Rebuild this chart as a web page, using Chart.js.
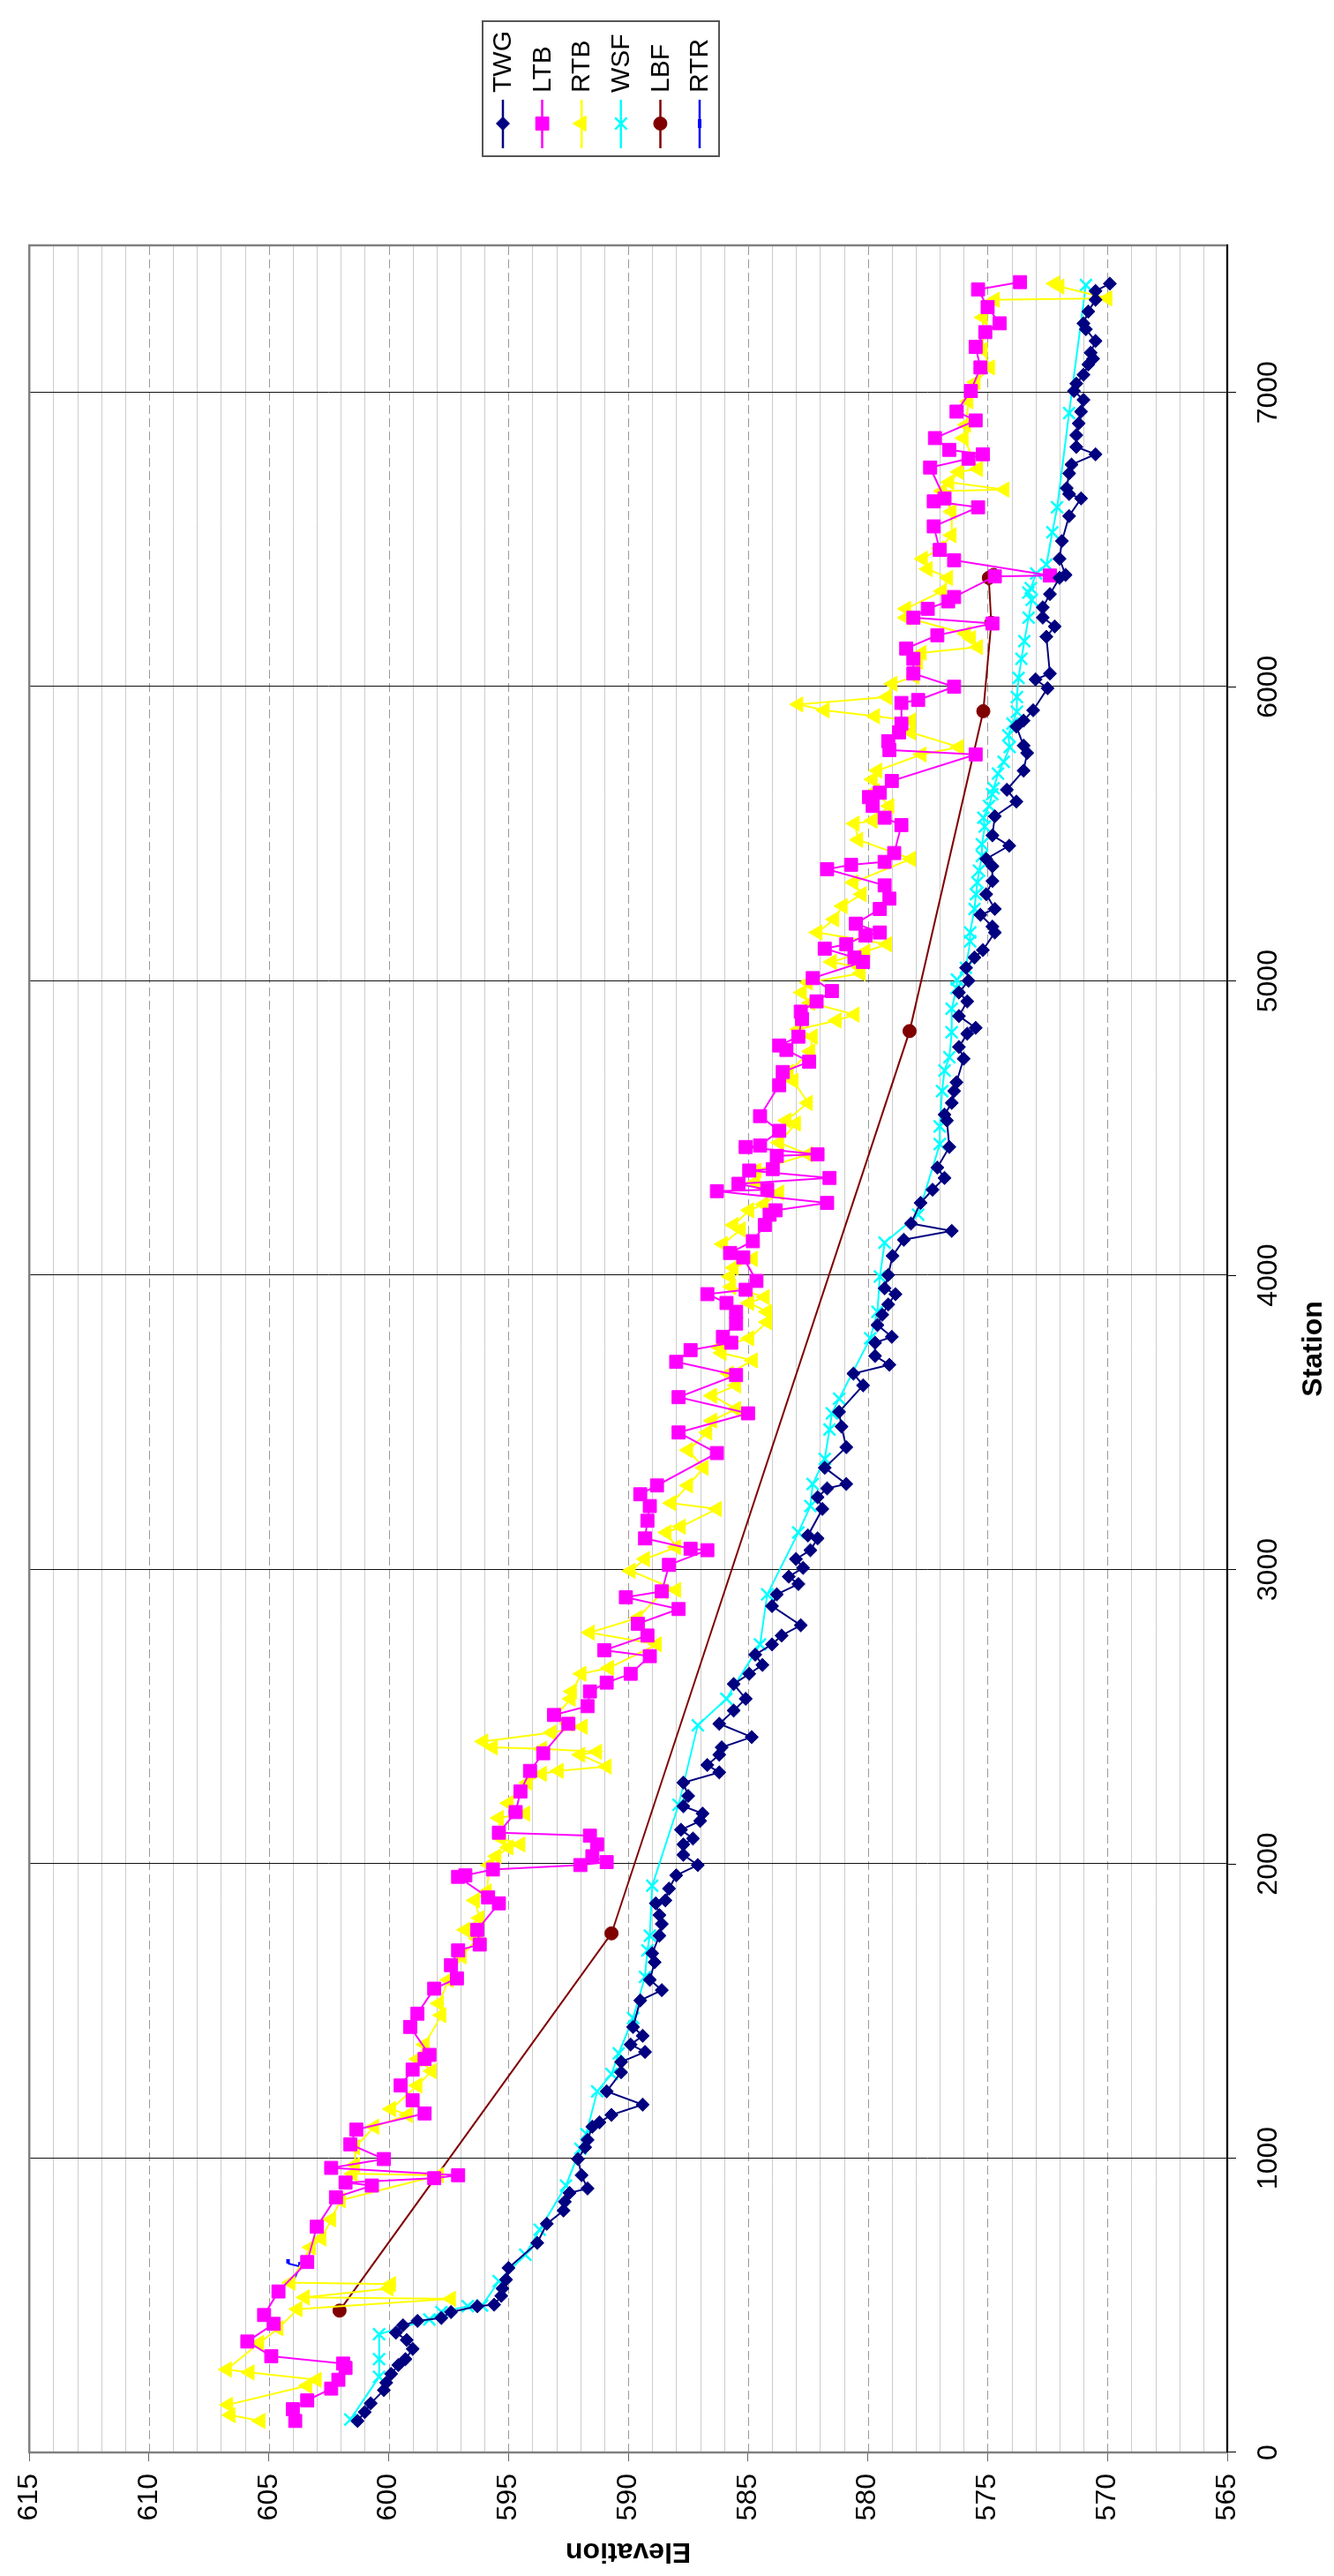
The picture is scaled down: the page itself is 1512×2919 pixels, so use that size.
<!DOCTYPE html>
<html>
<head>
<meta charset="utf-8">
<script src="https://cdn.jsdelivr.net/npm/chart.js@4.4.1/dist/chart.umd.min.js"></script>
<style>
  html, body { margin: 0; padding: 0; background: #fff; overflow: hidden; width: 1512px; height: 2919px; }
  /* the chart is drawn landscape and turned a quarter turn to the left */
  #wrap { position: absolute; left: 0; top: 0; width: 2919px; height: 1512px;
          transform-origin: 0 0; transform: translate(0, 2919px) rotate(-90deg); }
  canvas { display: block; }
</style>
</head>
<body>
<div id="wrap"><canvas id="profile" width="2919" height="1512"></canvas></div>
<script>
// [station, elevation]
const twg = [
  [107,601.3],[137,601.0],[167,600.75],[212,600.2],[237,600.1],[267,599.9],[297,599.6],[317,599.3],
  [352,599.0],[382,599.25],[407,599.7],[432,599.4],[447,598.8],[457,597.8],[477,597.4],[497,596.3],
  [502,595.6],[532,595.3],[557,595.25],[587,595.1],[627,595.0],[712,593.8],[777,593.4],[822,592.7],
  [852,592.65],[882,592.45],[897,591.7],[942,591.95],[997,592.1],[1037,591.8],[1062,591.7],[1107,591.5],
  [1122,591.2],[1147,590.7],[1182,589.4],[1227,590.9],[1292,590.3],[1327,590.3],[1361,589.3],[1386,589.9],
  [1416,589.4],[1446,589.8],[1536,589.5],[1571,588.6],[1606,589.1],[1666,588.9],[1696,589.0],[1756,588.7],
  [1796,588.6],[1826,588.7],[1866,588.85],[1876,588.45],[1916,588.3],[1961,588.0],[1996,587.1],[2031,587.7],
  [2066,587.7],[2086,587.3],[2116,587.8],[2146,587.0],[2171,586.9],[2196,587.7],[2231,587.5],[2276,587.7],
  [2311,586.2],[2336,586.7],[2371,586.2],[2396,586.1],[2431,584.85],[2476,586.2],[2521,585.6],[2561,585.1],
  [2611,585.6],[2646,584.95],[2676,584.4],[2711,584.7],[2746,584.0],[2776,583.6],[2811,582.8],[2876,584.0],
  [2916,583.8],[2951,582.9],[2976,583.3],[3006,582.7],[3036,583.0],[3066,582.4],[3106,582.1],[3116,582.5],
  [3206,581.9],[3246,582.1],[3276,581.7],[3291,580.9],[3346,581.8],[3416,580.9],[3486,581.1],[3536,581.2],
  [3626,580.2],[3666,580.6],[3696,579.1],[3726,579.7],[3771,579.7],[3791,579.0],[3831,579.6],[3866,579.4],
  [3901,579.15],[3936,578.85],[3956,579.3],[4001,579.15],[4066,578.97],[4121,578.5],[4151,576.5],[4176,578.2],
  [4246,577.8],[4291,577.3],[4331,576.8],[4366,577.1],[4436,576.6],[4526,576.7],[4546,576.8],[4586,576.5],
  [4626,576.4],[4656,576.3],[4736,576.0],[4776,576.2],[4821,575.85],[4841,575.5],[4881,576.2],[4931,575.85],
  [4961,576.2],[5001,575.8],[5045,575.9],[5080,575.55],[5105,575.2],[5165,574.7],[5185,574.8],[5225,575.3],
  [5245,574.7],[5295,575.06],[5340,574.8],[5390,574.8],[5415,575.06],[5460,574.1],[5495,574.8],[5560,574.7],
  [5610,573.8],[5650,574.2],[5715,573.5],[5775,573.35],[5800,573.5],[5865,573.8],[5885,573.5],[5920,573.1],
  [5995,572.5],[6025,573.0],[6045,572.4],[6170,572.55],[6205,572.2],[6235,572.7],[6270,572.7],[6315,572.4],
  [6370,572.0],[6380,571.75],[6435,572.0],[6495,571.9],[6580,571.6],[6640,571.1],[6655,571.6],[6675,571.7],
  [6725,571.6],[6755,571.5],[6790,570.5],[6815,571.3],[6855,571.3],[6895,571.2],[6935,571.1],[6975,571.0],
  [7005,571.4],[7030,571.3],[7060,571.0],[7095,570.8],[7115,570.6],[7135,570.7],[7175,570.5],[7215,570.9],
  [7235,571.0],[7275,570.8],[7315,570.5],[7345,570.5],[7370,569.9]
];

const ltb = [
  [107,603.9],[147,604.0],[177,603.4],[217,602.4],[247,602.1],[287,601.8],[302,601.9],[327,604.9],
  [377,605.9],[437,604.8],[467,605.2],[547,604.6],[647,603.4],[767,603.0],[867,602.2],[907,600.7],
  [917,601.8],[932,598.1],[942,597.1],[967,602.4],[997,600.2],[1047,601.6],[1097,601.35],[1152,598.5],
  [1197,599.0],[1247,599.5],[1301,599.0],[1337,598.5],[1351,598.3],[1446,599.1],[1491,598.8],[1576,598.1],
  [1611,597.15],[1656,597.4],[1706,597.1],[1726,596.2],[1776,596.3],[1866,595.4],[1886,595.85],[1956,597.1],
  [1961,596.8],[1981,595.65],[1996,592.0],[2006,590.9],[2026,591.5],[2066,591.3],[2096,591.6],[2106,595.4],
  [2176,594.7],[2246,594.5],[2316,594.1],[2376,593.55],[2476,592.5],[2506,593.1],[2536,591.7],[2586,591.6],
  [2616,590.9],[2646,589.9],[2706,589.1],[2726,591.0],[2776,589.2],[2816,589.6],[2866,587.9],[2906,590.1],
  [2926,588.6],[3016,588.3],[3066,586.7],[3071,587.4],[3106,589.3],[3166,589.2],[3216,589.1],[3256,589.5],
  [3286,588.8],[3396,586.3],[3466,587.9],[3531,585.0],[3586,587.9],[3661,585.5],[3706,588.0],[3746,587.4],
  [3771,585.7],[3791,586.05],[3836,585.5],[3876,585.5],[3906,585.9],[3936,586.7],[3951,585.1],[3981,584.65],
  [4061,585.2],[4076,585.75],[4116,584.8],[4171,584.3],[4206,584.1],[4221,583.85],[4246,581.7],[4286,586.3],
  [4291,584.2],[4311,585.4],[4331,581.6],[4356,584.95],[4361,583.97],[4406,583.8],[4411,582.1],[4436,585.1],
  [4441,584.5],[4491,583.7],[4541,584.5],[4646,583.7],[4691,583.55],[4726,582.45],[4766,583.4],[4781,583.7],
  [4811,582.9],[4871,582.75],[4896,582.8],[4931,582.14],[4966,581.5],[5010,582.3],[5065,580.2],[5080,580.56],
  [5110,581.8],[5125,580.9],[5155,580.1],[5165,579.5],[5195,580.5],[5245,579.5],[5280,579.1],[5325,579.3],
  [5380,581.7],[5395,580.7],[5405,579.3],[5435,578.9],[5530,578.6],[5555,579.3],[5595,579.8],[5625,579.95],
  [5640,579.5],[5680,579.0],[5770,575.5],[5785,579.1],[5815,579.15],[5845,578.7],[5875,578.6],[5945,578.6],
  [5955,577.9],[6000,576.4],[6045,578.1],[6095,578.1],[6130,578.4],[6175,577.1],[6215,574.8],[6235,578.1],
  [6265,577.5],[6290,576.65],[6305,576.4],[6375,574.7],[6378,572.4],[6430,576.4],[6465,577.0],[6545,577.25],
  [6610,575.4],[6630,577.25],[6640,576.8],[6745,577.4],[6775,575.8],[6790,575.2],[6805,576.6],[6845,577.2],
  [6905,575.5],[6935,576.3],[7005,575.7],[7085,575.3],[7155,575.5],[7205,575.1],[7235,574.5],[7290,575.0],
  [7350,575.4],[7375,573.65]
];

const rtb = [
  [107,605.35],[127,606.6],[162,606.7],[227,603.4],[247,603.0],[272,605.8],[282,606.75],[372,605.4],
  [422,604.6],[487,603.8],[522,597.4],[527,603.5],[557,600.0],[572,599.9],[577,604.1],[697,603.25],
  [727,602.8],[792,602.4],[857,602.0],[942,597.9],[947,601.5],[977,601.4],[1037,601.4],[1107,600.6],
  [1147,599.2],[1167,599.9],[1247,598.8],[1296,598.2],[1337,598.8],[1386,598.5],[1486,597.8],[1526,597.9],
  [1606,597.5],[1686,596.95],[1746,596.3],[1776,596.8],[1816,596.2],[1876,596.4],[1906,595.9],[1996,595.8],
  [2026,595.5],[2056,595.0],[2066,594.5],[2086,595.3],[2156,595.4],[2171,594.3],[2206,595.0],[2276,594.2],
  [2306,593.6],[2316,592.9],[2331,590.9],[2371,592.0],[2381,591.3],[2391,593.6],[2396,595.65],[2416,596.05],
  [2446,593.2],[2466,591.9],[2476,592.5],[2506,593.0],[2561,592.4],[2586,592.35],[2646,591.95],[2666,590.8],
  [2746,588.8],[2786,591.6],[2836,589.6],[2926,588.55],[2931,588.0],[2996,589.9],[3036,589.3],[3076,588.0],
  [3126,588.4],[3146,587.8],[3206,586.3],[3226,588.2],[3286,587.5],[3346,586.85],[3406,587.5],[3466,586.7],
  [3506,586.5],[3546,585.5],[3591,586.5],[3626,585.5],[3666,585.8],[3711,584.8],[3736,586.1],[3756,586.2],
  [3786,584.95],[3841,584.2],[3876,584.2],[3906,584.95],[3926,584.3],[3961,585.7],[3996,585.75],[4026,585.6],
  [4056,584.8],[4106,586.05],[4156,585.3],[4171,585.6],[4221,584.95],[4241,584.34],[4281,583.7],[4316,584.7],
  [4356,584.65],[4411,582.5],[4451,583.7],[4516,583.0],[4526,583.4],[4586,582.5],[4661,583.1],[4691,583.3],
  [4761,582.4],[4811,582.3],[4836,582.9],[4866,581.3],[4886,580.55],[4926,582.4],[4961,582.75],[4995,582.5],
  [5026,580.3],[5045,580.3],[5065,581.5],[5100,580.1],[5125,579.2],[5165,582.1],[5210,581.4],[5255,581.05],
  [5295,580.25],[5335,580.6],[5415,578.2],[5480,580.4],[5535,580.55],[5545,579.8],[5595,579.1],[5645,579.7],
  [5685,579.8],[5715,579.6],[5770,577.75],[5795,576.2],[5845,578.2],[5885,578.2],[5900,579.7],[5920,581.8],
  [5940,582.9],[5965,579.2],[6010,578.97],[6035,578.05],[6085,577.9],[6115,577.75],[6135,575.4],[6165,575.7],
  [6180,575.9],[6235,578.4],[6265,578.4],[6325,576.9],[6370,576.65],[6400,577.5],[6435,577.7],[6470,577.0],
  [6515,576.5],[6595,576.5],[6665,576.9],[6670,574.3],[6695,576.6],[6730,576.2],[6740,575.4],[6845,576.0],
  [6890,575.9],[6970,575.8],[7035,575.5],[7085,574.9],[7145,575.2],[7255,575.2],[7315,574.7],[7320,570.0],
  [7360,572.0],[7370,572.2]
];

const wsf = [
  [112,601.6],[257,600.4],[317,600.4],[402,600.4],[452,598.3],[477,597.8],[497,596.7],[499,596.1],
  [582,595.4],[672,594.3],[757,593.7],[907,592.6],[1032,592.0],[1082,591.75],[1227,591.3],[1286,590.7],
  [1356,590.4],[1476,589.8],[1616,589.3],[1706,589.2],[1756,589.1],[1926,589.0],[2201,587.9],[2471,587.1],
  [2561,585.9],[2746,584.5],[2916,584.2],[3126,582.9],[3216,582.4],[3291,582.3],[3376,581.8],[3476,581.6],
  [3531,581.5],[3581,581.2],[3786,579.9],[3876,579.6],[3996,579.5],[4111,579.3],[4206,577.9],[4446,577.0],
  [4506,577.0],[4626,576.9],[4696,576.8],[4741,576.6],[4826,576.5],[4906,576.5],[4976,576.3],[5005,576.28],
  [5045,575.91],[5135,575.73],[5165,575.73],[5245,575.55],[5295,575.49],[5335,575.43],[5375,575.36],[5425,575.24],
  [5465,575.24],[5525,575.12],[5555,575.18],[5595,574.94],[5635,574.81],[5655,574.75],[5705,574.57],[5745,574.33],
  [5795,574.08],[5835,574.14],[5875,573.96],[5915,573.78],[5965,573.78],[6030,573.71],[6095,573.59],[6155,573.47],
  [6235,573.29],[6295,573.16],[6320,573.3],[6335,573.2],[6385,572.98],[6415,572.55],[6525,572.3],[6610,572.1],
  [6930,571.6],[7365,570.9]
];

const lbf = [[482,602.05],[1764,590.7],[4830,578.26],[5917,575.18],[6217,574.85],[6370,574.95],[6380,574.75]];

const rtr = [[572,604.05],[632,603.7],[642,604.2]];

const seriesNames  = ["TWG", "LTB", "RTB", "WSF", "LBF", "RTR"];
const seriesData   = [twg, ltb, rtb, wsf, lbf, rtr];
const seriesColors = ["#000080", "#ff00ff", "#ffff00", "#00ffff", "#800000", "#0000ff"];
const stationTicks = [0, 1000, 2000, 3000, 4000, 5000, 6000, 7000];
const elevationTicks = [565, 570, 575, 580, 585, 590, 595, 600, 605, 610, 615];

const STATION_MAX = 7500;
const ELEV_MIN = 565, ELEV_MAX = 615;

// marker look for each series (Chart.js point styles)
const markers = [
  { style: "rectRot",  radius: 7.5,  border: 1 },
  { style: "rect",     radius: 10.5, border: 1 },
  { style: "triangle", radius: 10,   border: 1 },
  { style: "crossRot", radius: 9.5,  border: 2.5 },
  { style: "circle",   radius: 7.5,  border: 1 },
  { style: "dash",     radius: 5,    border: 4 }
];

const FONT = "'Liberation Sans', Arial, sans-serif";

function drawMarker(ctx, m, color, x, y) {
  ctx.save();
  ctx.fillStyle = color;
  ctx.strokeStyle = color;
  ctx.lineWidth = m.border;
  const r = m.radius;
  ctx.beginPath();
  if (m.style === "rectRot") {
    ctx.moveTo(x - r, y); ctx.lineTo(x, y - r); ctx.lineTo(x + r, y); ctx.lineTo(x, y + r); ctx.closePath();
    ctx.fill(); ctx.stroke();
  } else if (m.style === "rect") {
    const s = r * Math.SQRT1_2;
    ctx.rect(x - s, y - s, 2 * s, 2 * s); ctx.fill(); ctx.stroke();
  } else if (m.style === "triangle") {
    ctx.moveTo(x, y - r);
    ctx.lineTo(x + r * Math.sin(2 * Math.PI / 3), y - r * Math.cos(2 * Math.PI / 3));
    ctx.lineTo(x + r * Math.sin(4 * Math.PI / 3), y - r * Math.cos(4 * Math.PI / 3));
    ctx.closePath(); ctx.fill(); ctx.stroke();
  } else if (m.style === "crossRot") {
    const d = r * Math.SQRT1_2;
    ctx.moveTo(x - d, y - d); ctx.lineTo(x + d, y + d);
    ctx.moveTo(x - d, y + d); ctx.lineTo(x + d, y - d); ctx.stroke();
  } else if (m.style === "circle") {
    ctx.arc(x, y, r, 0, Math.PI * 2); ctx.fill(); ctx.stroke();
  } else {
    ctx.moveTo(x - r, y); ctx.lineTo(x + r, y); ctx.stroke();
  }
  ctx.restore();
}

// gridlines + plot frame, under the data
const plotFrame = {
  id: "plotFrame",
  beforeDatasetsDraw(chart) {
    const { ctx, chartArea: a, scales: { x, y } } = chart;
    ctx.save();
    ctx.lineWidth = 1;
    for (let e = ELEV_MIN + 1; e < ELEV_MAX; e++) {
      const py = Math.round(y.getPixelForValue(e)) + 0.5;
      if (e % 5 === 0) { ctx.strokeStyle = "#9a9a9a"; ctx.setLineDash([10, 5]); }
      else { ctx.strokeStyle = "#cccccc"; ctx.setLineDash([]); }
      ctx.beginPath(); ctx.moveTo(a.left, py); ctx.lineTo(a.right, py); ctx.stroke();
    }
    ctx.setLineDash([]);
    ctx.strokeStyle = "#111";
    stationTicks.filter(s => s > 0).forEach(s => {
      const px = Math.round(x.getPixelForValue(s)) + 0.5;
      ctx.beginPath(); ctx.moveTo(px, a.top); ctx.lineTo(px, a.bottom); ctx.stroke();
    });
    ctx.strokeStyle = "#808080";
    ctx.lineWidth = 2.5;
    ctx.strokeRect(a.left, a.top, a.right - a.left, a.bottom - a.top);
    ctx.strokeStyle = "#000";
    ctx.lineWidth = 2;
    ctx.beginPath(); ctx.moveTo(a.left, a.bottom); ctx.lineTo(a.right + 1, a.bottom); ctx.stroke();
    ctx.restore();
  },
  afterDraw(chart) {
    const { ctx, chartArea: a } = chart;
    ctx.save();
    // axis titles
    ctx.fillStyle = "#000";
    ctx.font = "bold 32px " + FONT;
    ctx.textAlign = "center";
    ctx.textBaseline = "middle";
    ctx.fillText("Station", (a.left + a.right) / 2, 1489);
    ctx.translate(28, (a.top + a.bottom) / 2);
    ctx.rotate(-Math.PI / 2);
    ctx.fillText("Elevation", 0, 0);
    ctx.restore();

    // legend box on the right
    ctx.save();
    const bx = 2742, by = 547, bw = 153, bh = 268;
    ctx.fillStyle = "#fff";
    ctx.fillRect(bx, by, bw, bh);
    ctx.strokeStyle = "#555";
    ctx.lineWidth = 2;
    ctx.strokeRect(bx, by, bw, bh);
    ctx.font = "30px " + FONT;
    ctx.textAlign = "left";
    ctx.textBaseline = "middle";
    seriesNames.forEach((name, i) => {
      const cy = 570 + i * 44.6;
      ctx.strokeStyle = seriesColors[i];
      ctx.lineWidth = 2.5;
      ctx.beginPath(); ctx.moveTo(2751, cy); ctx.lineTo(2806, cy); ctx.stroke();
      drawMarker(ctx, markers[i], seriesColors[i], 2779, cy);
      ctx.fillStyle = "#000";
      ctx.fillText(name, 2814, cy + 1);
    });
    ctx.restore();
  }
};

const datasets = seriesNames.map((name, i) => ({
  label: name,
  data: seriesData[i].map(p => ({ x: p[0], y: p[1] })),
  borderColor: seriesColors[i],
  backgroundColor: seriesColors[i],
  borderWidth: 2,
  pointStyle: markers[i].style,
  pointRadius: markers[i].radius,
  pointBorderWidth: markers[i].border,
  pointBackgroundColor: seriesColors[i],
  pointBorderColor: seriesColors[i],
  tension: 0
}));

new Chart(document.getElementById("profile"), {
  type: "line",
  data: { datasets },
  plugins: [plotFrame],
  options: {
    responsive: false,
    animation: false,
    devicePixelRatio: 1,
    layout: { padding: { left: 0, right: 278, top: 27, bottom: 0 } },
    plugins: { legend: { display: false }, tooltip: { enabled: false } },
    scales: {
      x: {
        type: "linear",
        min: 0, max: STATION_MAX,
        afterFit: s => { s.height = 121; },
        afterBuildTicks: s => { s.ticks = stationTicks.map(v => ({ value: v })); },
        border: { display: false },
        grid: { drawOnChartArea: false, drawTicks: true, tickLength: 10, tickColor: "#000", tickWidth: 1 },
        ticks: {
          autoSkip: false, padding: 18, color: "#000", maxRotation: 0,
          font: { family: FONT, size: 32 },
          callback: v => String(v)
        }
      },
      y: {
        min: ELEV_MIN, max: ELEV_MAX,
        afterFit: s => { s.width = 140; },
        afterBuildTicks: s => { s.ticks = elevationTicks.map(v => ({ value: v })); },
        border: { display: false },
        grid: { drawOnChartArea: false, drawTicks: true, tickLength: 10, tickColor: "#666", tickWidth: 1 },
        ticks: {
          autoSkip: false, padding: 14, color: "#000",
          font: { family: FONT, size: 32 },
          callback: v => String(v)
        }
      }
    }
  }
});
</script>
</body>
</html>
